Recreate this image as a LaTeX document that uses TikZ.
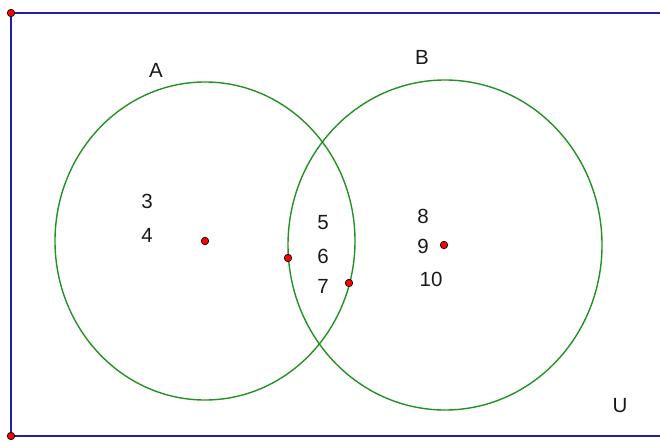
\documentclass[tikz,border=0pt]{standalone}
\usepackage{fontspec}
\setmainfont{Liberation Sans}
\begin{document}
\begin{tikzpicture}[x=1pt,y=-1pt,
  setcircle/.style={draw=vgreen, line width=1.4pt},
  frame/.style={draw=vblue, line width=1.9pt},
  lbl/.style={inner sep=0pt, font=\fontsize{20.5}{24}\selectfont, text=black!90},
  pt/.style={circle, fill=red, draw=black, line width=0.7pt, inner sep=0pt, minimum size=7.5pt}]
\definecolor{vgreen}{RGB}{35,145,35}
\definecolor{vblue}{RGB}{30,30,170}
\useasboundingbox (0,0) rectangle (660,441);
% universe frame
\coordinate (TL) at (11,13);
\coordinate (BL) at (11,436);
\coordinate (TR) at (668,13);
\coordinate (BR) at (668,436);
\draw[frame] (TR) -- (TL) -- (BL) -- (BR);
\node[pt] (tl) at (TL) {};
\node[pt] (bl) at (BL) {};
% sets
\draw[setcircle] (205,241) ellipse [x radius=150, y radius=159];
\draw[setcircle] (445,245) ellipse [x radius=157, y radius=165];
% points
\node[pt] (cA) at (205,241) {};
\node[pt] (cB) at (444,245) {};
\node[pt] (p1) at (288,258) {};
\node[pt] (p2) at (349,283) {};
% labels
\node[lbl] (lA) at (156,70) {A};
\node[lbl] (lB) at (422,57) {B};
\node[lbl] (lU) at (620,406) {U};
\node[lbl] (n3) at (147,201) {3};
\node[lbl] (n4) at (147,235) {4};
\node[lbl] (n5) at (323,223) {5};
\node[lbl] (n6) at (323,256) {6};
\node[lbl] (n7) at (323,286) {7};
\node[lbl] (n8) at (423,216) {8};
\node[lbl] (n9) at (423,246) {9};
\node[lbl] (n10) at (431,279) {10};
\end{tikzpicture}
\end{document}
